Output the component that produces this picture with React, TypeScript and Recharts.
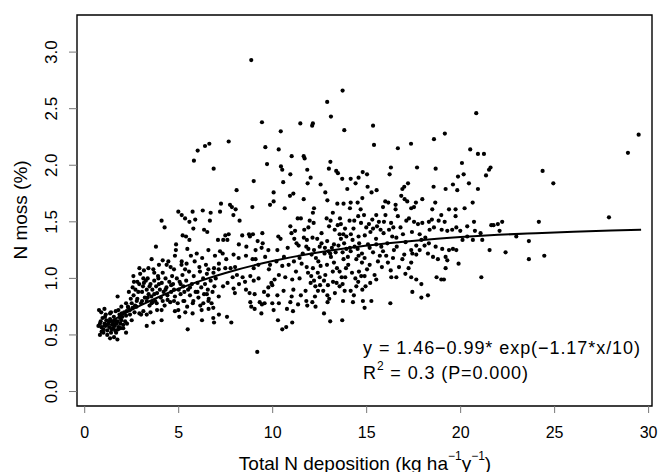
import React from 'react';
import { ComposedChart, Scatter, Line, XAxis, YAxis, ReferenceArea } from 'recharts';

const W = 659;
const H = 472;
const FONT = '"Liberation Sans", Arial, Helvetica, sans-serif';

const xTicks = [0, 5, 10, 15, 20, 25, 30];
const yTicks = [0, 0.5, 1, 1.5, 2, 2.5, 3];

// fitted curve
const fitX = [0.8, 1.5, 2, 3, 4, 5, 6, 7, 8, 9, 10, 12, 14, 16, 18, 20, 22, 24, 26, 28, 29.6];
const fitY = [0.558, 0.629, 0.677, 0.763, 0.84, 0.908, 0.969, 1.023, 1.072, 1.115, 1.153, 1.217, 1.268, 1.308, 1.34, 1.365, 1.385, 1.4, 1.413, 1.423, 1.429];

// points with deposition below ~7
const lowDeposition: [number, number][] = [
  [0.76,0.72],[0.81,0.60],[0.73,0.58],[0.90,0.53],[0.81,0.50],[0.99,0.52],[1.17,0.59],[1.35,0.47],[1.56,0.48],[1.74,0.46],
  [1.67,0.52],[1.43,0.55],[1.52,0.60],[1.31,0.62],[1.61,0.63],[1.88,0.65],[2.05,0.59],[2.20,0.52],[1.97,0.69],[2.23,0.71],
  [2.41,0.68],[2.50,0.63],[2.32,0.74],[2.68,0.76],[2.91,0.69],[3.12,0.71],[3.30,0.68],[3.30,0.58],[3.65,0.61],[4.09,0.63],
  [4.09,0.72],[3.83,0.78],[3.30,0.80],[2.77,0.80],[1.79,0.72],[1.91,0.56],[1.35,0.69],[1.08,0.66],[4.80,0.71],[4.98,0.72],
  [5.03,0.66],[5.48,0.55],[5.74,0.69],[6.22,0.72],[6.24,0.63],[6.59,0.73],[6.84,0.74],[6.88,0.61],[6.84,0.65],[4.41,0.81],
  [4.75,0.80],[5.25,0.80],[5.78,0.80],[6.31,0.78],[6.58,0.80],[3.56,0.78],
  [0.85,0.62],[0.9,0.57],[0.95,0.65],[1.0,0.55],[1.05,0.6],[1.1,0.58],[1.12,0.68],[1.2,0.54],[1.25,0.6],[1.3,0.57],
  [1.35,0.64],[1.4,0.52],[1.45,0.59],[1.5,0.56],[1.55,0.66],[1.6,0.58],[1.62,0.54],[1.7,0.6],[1.75,0.62],[1.8,0.57],
  [1.85,0.68],[1.9,0.6],[1.95,0.63],[2.0,0.66],[2.05,0.56],[2.1,0.7],[2.15,0.62],[2.2,0.67],[2.25,0.6],[1.2,0.5],
  [0.88,0.7],[1.05,0.73],[1.4,0.7],[1.65,0.71],[2.3,0.75],[2.4,0.72],[2.5,0.78],[1.15,0.63],[1.48,0.62],[1.78,0.55],
  [2.6,0.85],[2.7,0.9],[2.8,0.82],[2.9,0.95],[3.0,0.78],[3.05,0.88],[3.1,0.93],[3.2,0.83],[3.25,0.98],[3.3,0.9],
  [3.4,0.86],[3.45,0.76],[3.5,0.95],[3.55,0.84],[3.6,0.9],[3.7,0.98],[3.75,0.8],[3.8,0.93],[3.85,0.87],[3.9,1.02],
  [4.0,0.9],[4.05,0.83],[4.1,0.96],[4.2,0.88],[4.3,1.0],[4.35,0.92],[4.4,0.85],[4.5,0.97],[2.45,0.82],[2.55,0.92],
  [2.75,0.75],[2.95,1.04],[3.15,1.07],[3.35,1.0],[3.65,1.08],[3.95,1.12],[4.15,1.05],[4.45,1.15],[3.0,0.68],[3.5,0.7],
  [4.25,0.76],[3.85,0.72],
  [2.35,0.88],[2.65,0.7],[2.85,0.88],[3.05,0.8],[3.15,0.96],[3.35,0.83],[3.45,0.93],[3.6,0.79],[3.7,0.86],[3.95,0.95],
  [4.15,0.8],[4.3,0.9],[4.55,0.79],[4.6,0.94],[4.75,0.9],[5.1,0.95],[5.3,0.88],[5.6,0.92],[6.0,0.88],[6.5,0.86],
  [2.2,0.78],[2.55,0.74],[1.95,0.75],[2.8,0.97],
  [4.6,0.88],[4.7,0.95],[4.8,0.84],[4.9,1.0],[5.0,0.9],[5.05,0.97],[5.1,0.86],[5.2,1.03],[5.25,0.93],[5.3,0.8],
  [5.4,0.98],[5.5,0.9],[5.55,1.06],[5.6,0.85],[5.7,0.95],[5.75,0.78],[5.8,1.02],[5.9,0.88],[6.0,0.96],[6.05,0.83],
  [6.1,1.1],[6.2,0.92],[6.3,1.0],[6.35,0.86],[6.4,0.95],[6.5,1.04],[6.55,0.9],[6.6,0.82],[6.7,0.98],[6.8,0.88],
  [6.85,1.05],[6.9,0.93],[4.65,1.02],[4.95,0.78],[5.15,1.12],[5.45,0.75],[5.85,1.15],[6.15,0.76],[6.45,1.12],[6.75,0.78],
  [5.65,1.2],[6.25,1.18],[4.85,1.25],[5.35,0.7],
  [6.01,2.13],[5.81,2.04],[6.86,1.97],[4.09,1.51],[4.25,1.45],[4.98,1.59],[5.16,1.56],[5.34,1.53],[5.57,1.50],[5.74,1.59],
  [5.88,1.52],[6.28,1.60],[6.70,1.58],[6.66,1.51],[5.78,1.44],[6.35,1.43],[6.52,1.41],[5.21,1.38],[5.39,1.37],[5.57,1.34],
  [4.86,1.30],[3.79,1.28],[5.46,1.26],[6.58,1.25],[5.96,1.22],[4.80,1.20],[3.56,1.17],[4.15,1.16],[5.16,1.15],[4.36,1.12],
  [4.57,1.10],[4.75,1.08],[5.42,1.13],[5.34,1.08],[6.13,1.06],[6.58,1.08],[3.39,1.09],[2.91,1.09],[2.59,1.02],[3.12,1.00],
  [3.70,1.05],[3.92,1.00],[2.62,0.97],[1.75,0.84],[6.63,2.19],[6.40,2.17],
];

// points with deposition between ~7 and ~15
const midDeposition: [number, number][] = [
  [8.86,2.93],[13.72,2.66],[12.90,2.56],[13.10,2.43],[9.43,2.38],[11.47,2.37],[12.14,2.37],[12.10,2.35],[13.81,2.31],[10.43,2.30],
  [7.66,2.21],[9.61,2.16],[10.32,2.14],
  [11.01,2.08],[11.65,2.08],[11.70,2.06],[13.07,2.03],[9.70,2.01],[10.44,1.99],[10.51,1.96],[11.84,1.96],[12.99,1.97],[13.38,1.95],
  [13.47,1.93],[10.94,1.92],[12.02,1.89],[14.57,1.89],[13.70,1.88],[14.15,1.88],[14.79,1.94],[8.99,1.86],[10.56,1.85],[11.86,1.84],
  [12.55,1.83],[14.41,1.84],[13.97,1.79],[8.08,1.78],[10.05,1.76],[12.80,1.76],[11.10,1.75],[10.92,1.73],[11.65,1.70],[12.91,1.69],
  [10.05,1.68],[9.86,1.65],[7.25,1.66],[7.73,1.65],[7.83,1.63],[13.44,1.66],[13.77,1.66],[14.15,1.67],[14.52,1.67],[14.77,1.71],
  [14.11,1.62],[14.68,1.61],[7.20,1.59],[8.03,1.61],[8.92,1.63],[10.64,1.62],[7.91,1.56],[8.24,1.51],[14.55,1.55],[12.14,1.58],
  [11.97,1.51],[12.18,1.49],[11.33,1.53],[11.50,1.53],[12.87,1.53],[13.08,1.51],[13.58,1.53],[13.46,1.47],[13.63,1.48],[14.09,1.51],
  [14.34,1.51],[13.85,1.44],[10.94,1.46],[11.19,1.42],[11.68,1.43],[11.66,1.36],[9.45,1.40],[8.74,1.39],[8.95,1.39],[8.79,1.37],
  [8.38,1.38],[10.30,1.37],[10.42,1.35],[9.47,1.31],[9.09,1.25],[9.41,1.27],[9.77,1.25],[10.25,1.25],[7.66,1.39],[7.48,1.38],
  [7.37,1.34],[7.09,1.34],[7.59,1.34],[11.15,1.35],[11.27,1.31],[11.38,1.29],[11.79,1.28],[11.82,1.34],[12.12,1.36],[12.37,1.35],
  [12.60,1.31],[12.50,1.28],[12.20,1.25],[12.07,1.21],[11.90,1.26],[12.78,1.27],[12.96,1.24],[13.15,1.27],[13.26,1.30],[13.56,1.39],
  [13.63,1.35],[13.76,1.39],[13.92,1.37],[14.16,1.39],[14.25,1.34],[14.57,1.37],[14.36,1.28],[13.92,1.26],[14.11,1.27],[14.52,1.26],
  [14.75,1.22],[14.15,1.24],[13.72,1.23],[13.35,1.23],[13.06,1.22],[12.76,1.22],[7.20,1.24],[7.34,1.22],[6.93,1.20],[7.92,1.21],
  [8.19,1.18],[8.58,1.20],[8.93,1.17],[9.09,1.17],[7.53,1.17],[7.14,1.13],[7.48,1.09],[7.76,1.09],[7.13,1.08],[6.88,1.09],
  [7.87,1.01],[8.10,1.03],[8.40,1.01],[8.53,0.97],[8.99,1.09],[9.24,1.12],[9.86,1.12],[9.80,1.08],[10.51,1.11],[10.85,1.12],
  [11.13,1.15],[11.43,1.18],[11.54,1.13],[11.81,1.10],[11.88,1.05],[12.05,1.02],[12.14,1.09],[12.43,1.15],[12.55,1.11],[12.89,1.12],
  [13.26,1.14],[13.42,1.09],[13.77,1.17],[14.02,1.12],[14.45,1.17],[14.57,1.20],[14.75,1.14],[14.22,1.05],[13.86,1.01],[13.56,1.06],
  [13.67,1.01],[14.59,1.06],[14.71,1.02],[14.55,0.97],[13.40,0.96],[13.56,0.93],[13.72,0.95],[13.21,0.97],[12.94,0.94],[12.73,0.98],
  [12.50,1.01],[12.20,0.98],[12.02,0.96],[11.43,1.00],[11.24,1.06],[11.04,0.99],[10.67,1.01],[10.33,1.03],[10.10,0.99],[9.98,0.94],
  [9.77,0.92],[9.93,0.96],[9.25,1.00],[8.81,1.02],[8.99,0.98],[8.77,0.87],[9.04,0.86],[8.58,0.90],[7.60,0.96],[7.36,0.93],
  [7.13,0.84],[7.92,0.91],[7.99,0.87],[8.21,0.95],[6.97,1.00],[9.54,0.88],[9.75,0.85],[10.25,0.85],[10.58,0.89],[11.10,0.90],
  [11.01,0.84],[11.50,0.85],[11.75,0.89],[12.27,0.93],[12.52,0.94],[12.41,0.89],[12.25,0.84],[12.69,0.89],[12.91,0.85],[13.01,0.82],
  [13.31,0.87],[13.83,0.89],[14.15,0.89],[14.32,0.85],[14.45,0.93],[14.77,0.90],
  [7.14,0.68],[7.57,0.66],[7.80,0.61],[8.81,0.79],[8.86,0.75],[9.04,0.73],[9.31,0.79],[9.43,0.77],[9.40,0.69],[9.57,0.78],
  [9.98,0.78],[10.05,0.72],[10.33,0.78],[10.28,0.63],[10.51,0.55],[10.72,0.57],[10.76,0.73],[10.94,0.79],[11.04,0.61],[11.08,0.71],
  [11.35,0.77],[11.79,0.80],[11.84,0.76],[12.11,0.79],[12.28,0.75],[12.73,0.69],[12.92,0.79],[13.06,0.62],[13.74,0.80],[13.70,0.63],
  [14.27,0.79],[9.18,0.35],[14.80,0.80],
  [12.3,1.18],[12.6,1.40],[12.9,1.33],[13.1,1.19],[13.3,1.43],[13.5,1.29],[13.8,1.31],[14.0,1.19],[14.3,1.44],[14.6,1.31],
  [11.6,1.22],[11.9,1.45],[12.4,1.05],[12.8,1.03],[13.2,1.06],[13.9,1.09],[14.4,1.00],[10.8,1.27],[11.0,1.40],[10.6,1.19],
  [10.2,1.15],[9.6,1.19],[9.2,1.33],[8.6,1.28],[8.2,1.30],[8.0,1.10],[13.0,1.46],[14.7,1.49],[12.2,1.62],[13.2,1.58],
];

// points with deposition above ~15
const highDeposition: [number, number][] = [
  [20.83,2.46],[15.34,2.35],[19.16,2.28],[18.58,2.23],[15.39,2.18],[17.36,2.19],[16.66,2.15],[20.51,2.14],[29.47,2.27],
  [20.92,2.10],[21.24,2.10],[20.07,2.02],[16.29,1.98],[17.68,1.98],[18.67,1.97],[21.59,1.98],[21.51,1.96],[16.22,1.92],[15.02,1.92],
  [20.16,1.92],[19.86,1.90],[21.35,1.91],[20.44,1.84],[19.59,1.83],[18.56,1.81],[19.20,1.79],[19.82,1.78],[20.92,1.79],[15.05,1.81],
  [15.53,1.78],[15.26,1.76],[17.20,1.84],[17.00,1.81],[16.90,1.79],[16.84,1.73],[17.02,1.70],[17.16,1.68],[17.96,1.70],[17.62,1.67],
  [17.52,1.63],[17.37,1.62],[18.65,1.67],[20.64,1.67],[18.49,1.61],[18.97,1.56],[19.38,1.61],[19.73,1.61],[20.21,1.62],[15.99,1.68],
  [16.15,1.67],[15.87,1.63],[16.54,1.65],[16.54,1.61],[16.66,1.55],[17.25,1.53],[17.11,1.51],[17.52,1.50],[17.73,1.48],[17.96,1.49],
  [18.31,1.50],[18.47,1.52],[18.83,1.51],[19.15,1.50],[18.58,1.45],[18.35,1.43],[18.99,1.43],[19.29,1.42],[19.55,1.43],[19.77,1.45],
  [19.98,1.42],[19.73,1.55],[20.35,1.46],[20.71,1.50],[20.76,1.42],[21.06,1.40],[21.63,1.47],[21.75,1.47],[21.98,1.48],[22.21,1.50],
  [22.07,1.42],[21.15,1.34],[20.65,1.34],[15.51,1.56],[14.86,1.56],[15.12,1.48],[14.98,1.45],[15.34,1.44],[15.55,1.46],[15.74,1.43],
  [15.65,1.50],[15.92,1.50],[16.19,1.43],[16.42,1.45],[16.36,1.37],[16.58,1.36],[16.93,1.39],[17.41,1.41],[17.82,1.39],[18.12,1.36],
  [17.07,1.32],[17.91,1.34],[17.64,1.29],[18.08,1.29],[18.31,1.31],[18.67,1.28],[19.02,1.26],[19.59,1.26],[19.77,1.25],[19.38,1.25],
  [20.10,1.34],[20.35,1.37],[19.20,1.19],[19.29,1.16],[19.89,1.13],[19.20,1.09],[18.72,1.01],[18.97,0.99],[19.11,0.99],[21.54,1.25],
  [22.39,1.23],[21.10,1.01],[17.91,0.95],[17.43,0.88],[17.91,0.83],[18.26,0.85],[17.64,0.99],[17.37,1.01],[17.06,1.04],[16.58,1.01],
  [16.31,1.01],[16.28,1.07],[16.72,1.10],[16.13,1.14],[15.81,1.10],[16.04,1.20],[16.45,1.25],[16.40,1.18],[15.87,1.24],[15.78,1.28],
  [15.51,1.30],[15.16,1.27],[15.07,1.30],[15.34,1.23],[14.89,1.18],[15.16,1.12],[15.02,1.08],[14.89,1.02],[15.42,1.03],[15.19,0.96],
  [15.51,0.99],[14.94,0.93],[17.37,1.14],[17.43,1.22],[17.37,1.25],[17.64,1.21],[17.82,1.25],[18.26,1.22],[18.53,1.19],[18.79,1.17],
  [17.23,1.09],[14.89,0.74],[15.25,0.80],[16.26,0.78],
  [14.9,1.38],[15.2,1.41],[15.5,1.35],[15.7,1.20],[15.9,1.40],[16.1,1.31],[16.3,1.49],[16.6,1.28],[16.8,1.45],[17.0,1.21],
  [15.6,1.15],[16.9,1.17],[15.3,1.52],[16.0,1.56],
  [28.90,2.11],[24.36,1.95],[24.93,1.84],[24.16,1.50],[27.89,1.54],[22.96,1.37],[23.63,1.33],[24.45,1.20],[23.63,1.17],
];

const allPoints = [...lowDeposition, ...midDeposition, ...highDeposition].map(([x, y]) => ({ x, y }));
const fitData = fitX.map((x, i) => ({ x, fit: fitY[i] }));

const XTick = (p: any) => (
  <text x={p.x} y={432} textAnchor="middle" dominantBaseline="central" fontSize={16} fontFamily={FONT} fill="#000">
    {p.payload.value}
  </text>
);

const YTick = (p: any) => (
  <text
    x={52}
    y={p.y}
    transform={`rotate(-90, 52, ${p.y})`}
    textAnchor="middle"
    dominantBaseline="central"
    fontSize={17}
    fontFamily={FONT}
    fill="#000"
  >
    {Number(p.payload.value).toFixed(1)}
  </text>
);

const Dot = (p: any) => <circle cx={p.cx} cy={p.cy} r={2.1} fill="#000" />;

export default function App() {
  return (
    <div style={{ position: 'absolute', left: 0, top: 0, width: W, height: H, background: '#fff' }}>
      <ComposedChart width={W} height={H} margin={{ top: 15, right: 7, bottom: 0, left: 0 }}>
        <XAxis
          type="number"
          dataKey="x"
          domain={[-0.41, 30.18]}
          allowDataOverflow
          ticks={xTicks}
          interval={0}
          height={66}
          tickSize={7}
          axisLine={false}
          tickLine={{ stroke: '#777' }}
          tick={<XTick />}
        />
        <YAxis
          type="number"
          dataKey="y"
          domain={[-0.128, 3.328]}
          allowDataOverflow
          ticks={yTicks}
          interval={0}
          width={77}
          tickSize={8}
          axisLine={false}
          tickLine={{ stroke: '#777' }}
          tick={<YTick />}
        />
        <ReferenceArea x1={-0.41} x2={30.18} y1={-0.128} y2={3.328} fill="none" stroke="#000" strokeWidth={1.4} ifOverflow="visible" />
        <Scatter data={allPoints} dataKey="y" shape={Dot} isAnimationActive={false} />
        <Line data={fitData} dataKey="fit" type="monotone" stroke="#000" strokeWidth={2} dot={false} isAnimationActive={false} />
      </ComposedChart>
      <svg width={W} height={H} style={{ position: 'absolute', left: 0, top: 0, pointerEvents: 'none' }}>
        <text x={365} y={463} textAnchor="middle" dominantBaseline="central" fontSize={19} fontFamily={FONT} fill="#000">
          Total N deposition (kg ha<tspan fontSize={12} dy={-7}>−1</tspan><tspan dy={7}>y</tspan><tspan fontSize={12} dy={-7}>−1</tspan><tspan dy={7}>)</tspan>
        </text>
        <text x={20} y={210} transform="rotate(-90, 20, 210)" textAnchor="middle" dominantBaseline="central" fontSize={19} fontFamily={FONT} fill="#000">
          N moss (%)
        </text>
        <text x={363} y={348} dominantBaseline="central" fontSize={18} fontFamily={FONT} fill="#000" textLength={277} lengthAdjust="spacing">
          y = 1.46−0.99* exp(−1.17*x/10)
        </text>
        <text x={363} y={373} dominantBaseline="central" fontSize={18} fontFamily={FONT} fill="#000" textLength={165} lengthAdjust="spacing">
          R<tspan fontSize={12} dy={-7}>2</tspan><tspan dy={7}> = 0.3 (P=0.000)</tspan>
        </text>
      </svg>
    </div>
  );
}
